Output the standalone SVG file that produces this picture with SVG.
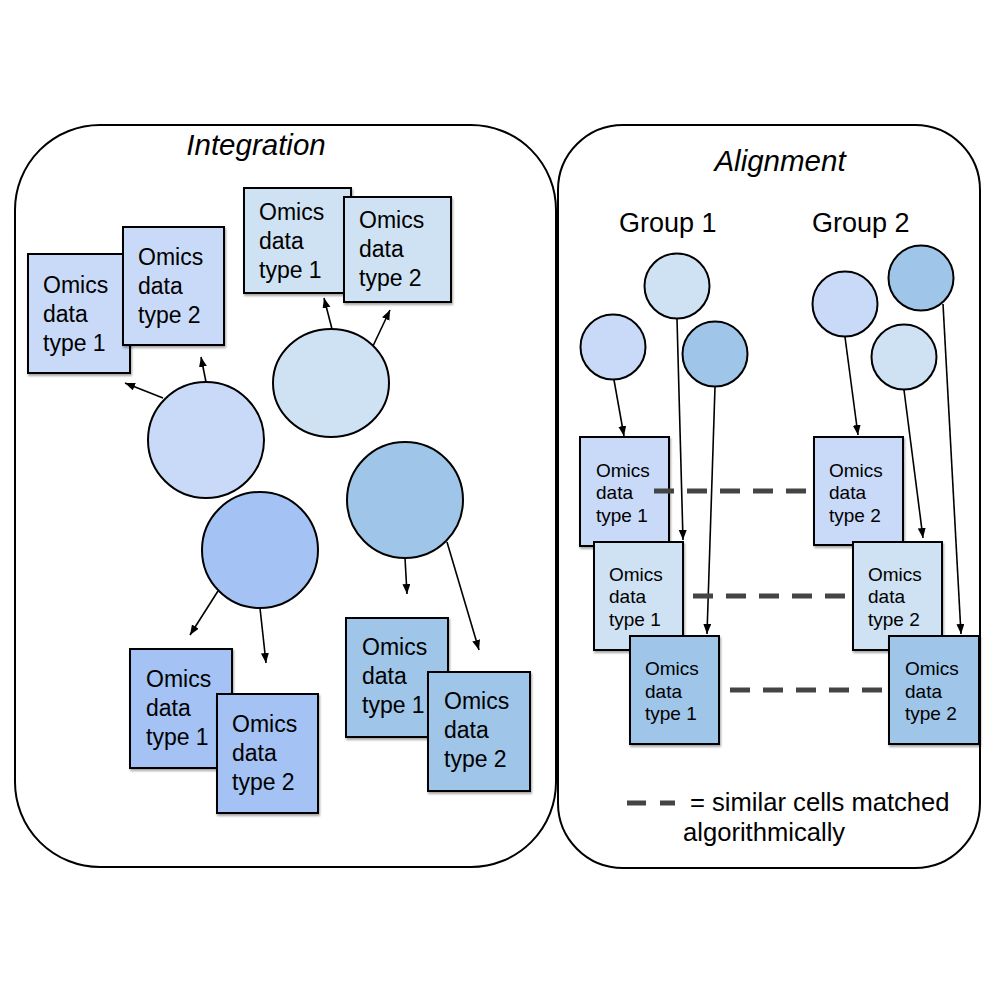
<svg xmlns="http://www.w3.org/2000/svg" width="1000" height="1000" viewBox="0 0 1000 1000">
<defs>
<style>
.panel{fill:#ffffff;stroke:#000;stroke-width:2}
.box{stroke:#000;stroke-width:2;filter:url(#sh)}
.circ{stroke:#000;stroke-width:2}
.c1{fill:#c9daf8}.c2{fill:#cfe2f3}.c3{fill:#a4c2f4}.c4{fill:#9fc5e8}
.t{font-family:"Liberation Sans",Arial,sans-serif;fill:#000}
.big{font-size:23px}
.small{font-size:19px}
.title{font-family:"Liberation Sans",Arial,sans-serif;font-style:italic;font-size:29.5px;text-anchor:middle}
.grp{font-family:"Liberation Sans",Arial,sans-serif;font-size:27px}
.leg{font-family:"Liberation Sans",Arial,sans-serif;font-size:25.6px}
.arr{stroke:#000;stroke-width:1.6;fill:none;marker-end:url(#ah)}
.dash{stroke:#444;stroke-width:5;stroke-dasharray:20 13;fill:none}
</style>
<marker id="ah" markerUnits="userSpaceOnUse" markerWidth="12" markerHeight="10" refX="10" refY="4" orient="auto">
<path d="M0,0 L10,4 L0,8 z" fill="#000"/>
</marker>
<filter id="sh" x="-10%" y="-10%" width="130%" height="130%">
<feDropShadow dx="1" dy="2" stdDeviation="1.2" flood-color="#000" flood-opacity="0.35"/>
</filter>
</defs>

<g id="panel-integration">
<rect class="panel" x="15" y="125" width="541" height="742" rx="85" ry="85"/>
<text class="title" x="256" y="155">Integration</text>
</g>
<g id="panel-alignment">
<rect class="panel" x="558" y="125" width="422" height="743" rx="65" ry="65"/>
<text class="title" x="780" y="171">Alignment</text>
<text class="grp" x="619" y="232">Group 1</text>
<text class="grp" x="812" y="232">Group 2</text>
</g>

<!-- Integration boxes -->
<g id="boxA1"><rect class="box c1" x="28" y="254" width="102" height="119"/>
<text class="t big"><tspan x="43" y="293">Omics</tspan><tspan x="43" y="322">data</tspan><tspan x="43" y="351">type 1</tspan></text></g>
<g id="boxA2"><rect class="box c1" x="123" y="227" width="101" height="118"/>
<text class="t big"><tspan x="138" y="265">Omics</tspan><tspan x="138" y="294">data</tspan><tspan x="138" y="323">type 2</tspan></text></g>
<g id="boxB1"><rect class="box c2" x="244" y="188" width="107" height="105"/>
<text class="t big"><tspan x="259" y="220">Omics</tspan><tspan x="259" y="249">data</tspan><tspan x="259" y="278">type 1</tspan></text></g>
<g id="boxB2"><rect class="box c2" x="344" y="197" width="107" height="105"/>
<text class="t big"><tspan x="359" y="228">Omics</tspan><tspan x="359" y="257">data</tspan><tspan x="359" y="286">type 2</tspan></text></g>
<g id="boxD1"><rect class="box c3" x="130" y="649" width="102" height="119"/>
<text class="t big"><tspan x="146" y="687">Omics</tspan><tspan x="146" y="716">data</tspan><tspan x="146" y="745">type 1</tspan></text></g>
<g id="boxD2"><rect class="box c3" x="217" y="694" width="101" height="119"/>
<text class="t big"><tspan x="232" y="732">Omics</tspan><tspan x="232" y="761">data</tspan><tspan x="232" y="790">type 2</tspan></text></g>
<g id="boxE1"><rect class="box c4" x="346" y="618" width="102" height="119"/>
<text class="t big"><tspan x="362" y="655">Omics</tspan><tspan x="362" y="684">data</tspan><tspan x="362" y="713">type 1</tspan></text></g>
<g id="boxE2"><rect class="box c4" x="428" y="672" width="102" height="119"/>
<text class="t big"><tspan x="444" y="709">Omics</tspan><tspan x="444" y="738">data</tspan><tspan x="444" y="767">type 2</tspan></text></g>

<!-- Integration cells -->
<g id="cellC1"><circle class="circ c1" cx="206" cy="440" r="58"/></g>
<g id="cellC2"><ellipse class="circ c2" cx="331" cy="383" rx="58" ry="54"/></g>
<g id="cellC3"><circle class="circ c3" cx="260" cy="550" r="58"/></g>
<g id="cellC4"><circle class="circ c4" cx="405" cy="500" r="58"/></g>

<!-- Alignment boxes -->
<g id="boxR1"><rect class="box c1" x="580" y="437" width="89" height="109"/>
<text class="t small"><tspan x="596" y="477">Omics</tspan><tspan x="596" y="499">data</tspan><tspan x="596" y="522">type 1</tspan></text></g>
<g id="boxR2"><rect class="box c2" x="594" y="542" width="89" height="108"/>
<text class="t small"><tspan x="609" y="581">Omics</tspan><tspan x="609" y="603">data</tspan><tspan x="609" y="626">type 1</tspan></text></g>
<g id="boxR3"><rect class="box c4" x="630" y="636" width="89" height="108"/>
<text class="t small"><tspan x="645" y="675">Omics</tspan><tspan x="645" y="698">data</tspan><tspan x="645" y="720">type 1</tspan></text></g>
<g id="boxS1"><rect class="box c1" x="814" y="437" width="89" height="108"/>
<text class="t small"><tspan x="829" y="477">Omics</tspan><tspan x="829" y="499">data</tspan><tspan x="829" y="522">type 2</tspan></text></g>
<g id="boxS2"><rect class="box c2" x="853" y="542" width="89" height="108"/>
<text class="t small"><tspan x="868" y="581">Omics</tspan><tspan x="868" y="603">data</tspan><tspan x="868" y="626">type 2</tspan></text></g>
<g id="boxS3"><rect class="box c4" x="889" y="636" width="90" height="108"/>
<text class="t small"><tspan x="905" y="675">Omics</tspan><tspan x="905" y="698">data</tspan><tspan x="905" y="720">type 2</tspan></text></g>

<!-- Alignment cells -->
<g id="cellG1a"><circle class="circ c1" cx="613" cy="347" r="32.5"/></g>
<g id="cellG1b"><circle class="circ c2" cx="677" cy="286" r="32.5"/></g>
<g id="cellG1c"><circle class="circ c4" cx="715" cy="354" r="32.5"/></g>
<g id="cellG2a"><circle class="circ c1" cx="845" cy="304" r="32.5"/></g>
<g id="cellG2b"><circle class="circ c4" cx="921" cy="278" r="32.5"/></g>
<g id="cellG2c"><circle class="circ c2" cx="904" cy="357" r="32.5"/></g>

<g id="connectors">
<line class="arr" x1="163" y1="398" x2="125" y2="383"/>
<line class="arr" x1="206" y1="382" x2="201" y2="357"/>
<line class="arr" x1="332" y1="329" x2="324" y2="298"/>
<line class="arr" x1="373" y1="346" x2="390" y2="310"/>
<line class="arr" x1="218" y1="591" x2="190" y2="635"/>
<line class="arr" x1="260" y1="608" x2="266" y2="663"/>
<line class="arr" x1="405" y1="558" x2="407" y2="594"/>
<line class="arr" x1="447" y1="542" x2="479" y2="650"/>
<line class="arr" x1="614" y1="380" x2="624" y2="436"/>
<line class="arr" x1="677" y1="319" x2="683" y2="540"/>
<line class="arr" x1="715" y1="387" x2="707" y2="634"/>
<line class="arr" x1="845" y1="337" x2="858" y2="435"/>
<line class="arr" x1="904" y1="390" x2="923" y2="538"/>
<line class="arr" x1="943" y1="304" x2="961" y2="634"/>
<line class="dash" x1="654" y1="491" x2="808" y2="491"/>
<line class="dash" x1="693" y1="596" x2="848" y2="596"/>
<line class="dash" x1="730" y1="690" x2="885" y2="690"/>
</g>

<g id="legend">
<line class="dash" x1="627" y1="803" x2="675" y2="803" style="stroke-dasharray:19 14"/>
<text class="leg" x="690" y="811">= similar cells matched</text>
<text class="leg" x="683" y="841">algorithmically</text>
</g>
</svg>
